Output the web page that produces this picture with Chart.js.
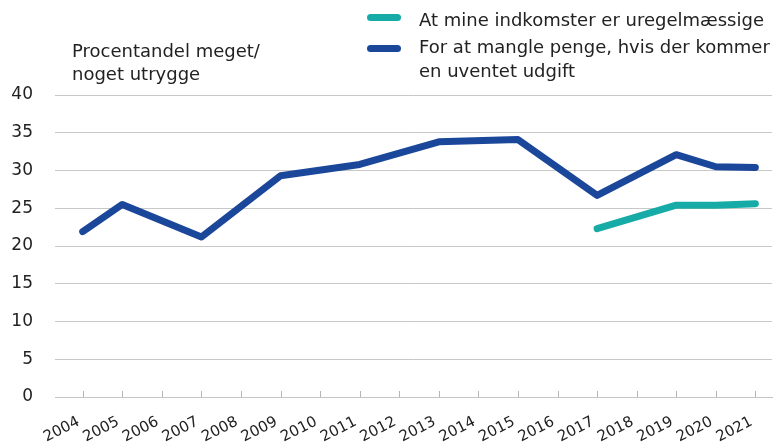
<!DOCTYPE html>
<html>
<head>
<meta charset="utf-8">
<script src="https://cdn.jsdelivr.net/npm/chart.js@4.4.1/dist/chart.umd.min.js"></script>
<style>
  html, body { margin: 0; padding: 0; background: #fff; }
  #wrap { position: relative; width: 783px; height: 444px; overflow: hidden; font-family: "DejaVu Sans", sans-serif; color: #222; }
  canvas { position: absolute; left: 0; top: 0; }
  .title { position: absolute; left: 72px; top: 39px; font-size: 18px; line-height: 23px; white-space: nowrap; }
  .leg { position: absolute; left: 419px; font-size: 18px; line-height: 24px; white-space: nowrap; }
  .sw { position: absolute; left: 367px; width: 34px; height: 7px; border-radius: 3.5px; }
</style>
</head>
<body>
<div id="wrap">
  <canvas id="c" width="783" height="444"></canvas>
  <div class="title">Procentandel meget/<br>noget utrygge</div>
  <div class="sw" id="sw0" style="top:14px;"></div>
  <div class="leg" id="lg0" style="top:8px;"></div>
  <div class="sw" id="sw1" style="top:45px;"></div>
  <div class="leg" id="lg1" style="top:35px;"></div>
</div>
<script>
// ---- data ----
const years = [2004, 2005, 2006, 2007, 2008, 2009, 2010, 2011, 2012, 2013, 2014, 2015, 2016, 2017, 2018, 2019, 2020, 2021];
const seriesNames = ["At mine indkomster er uregelmæssige", "For at mangle penge, hvis der kommer|en uventet udgift"];
const irregularYears = [2017, 2019, 2020, 2021];
const irregularValues = [22.3, 25.4, 25.4, 25.6];
const expenseYears = [2004, 2005, 2007, 2009, 2011, 2013, 2015, 2017, 2019, 2020, 2021];
const expenseValues = [21.9, 25.5, 21.2, 29.3, 30.8, 33.8, 34.1, 26.7, 32.1, 30.5, 30.4];
const yTicks = [0, 5, 10, 15, 20, 25, 30, 35, 40];

const colors = ["#16aba6", "#1b479b"];

// legend (HTML text)
document.getElementById('lg0').textContent = seriesNames[0];
document.getElementById('lg1').innerHTML = seriesNames[1].split('|').join('<br>');
document.getElementById('sw0').style.background = colors[0];
document.getElementById('sw1').style.background = colors[1];

const tickMarks = {
  id: 'tickMarks',
  afterDraw(chart) {
    const xs = chart.scales.x;
    const ctx = chart.ctx;
    const b = chart.chartArea.bottom;
    ctx.save();
    ctx.strokeStyle = '#b4b4b4';
    ctx.lineWidth = 1;
    ctx.beginPath();
    years.forEach(y => {
      const px = Math.round(xs.getPixelForValue(y)) + 0.5;
      ctx.moveTo(px, b - 6);
      ctx.lineTo(px, b);
    });
    ctx.stroke();
    ctx.restore();
  }
};

new Chart(document.getElementById('c'), {
  type: 'line',
  data: {
    datasets: [
      {
        label: seriesNames[0],
        data: irregularYears.map((x, i) => ({ x, y: irregularValues[i] })),
        borderColor: colors[0],
        backgroundColor: colors[0],
        borderWidth: 7,
        borderCapStyle: 'round',
        borderJoinStyle: 'round',
        pointRadius: 0,
        tension: 0
      },
      {
        label: seriesNames[1],
        data: expenseYears.map((x, i) => ({ x, y: expenseValues[i] })),
        borderColor: colors[1],
        backgroundColor: colors[1],
        borderWidth: 7,
        borderCapStyle: 'round',
        borderJoinStyle: 'round',
        pointRadius: 0,
        tension: 0
      }
    ]
  },
  options: {
    responsive: false,
    animation: false,
    devicePixelRatio: 1,
    layout: { padding: { top: 95, right: 11, left: 0, bottom: 0 } },
    plugins: { legend: { display: false }, tooltip: { enabled: false } },
    scales: {
      x: {
        type: 'linear',
        min: 2003.3,
        max: 2021.42,
        afterBuildTicks(scale) { scale.ticks = years.map(v => ({ value: v })); },
        afterFit(scale) { scale.height = 47; },
        grid: { display: false },
        border: { display: true, color: '#c4c4c4', width: 1 },
        ticks: {
          autoSkip: false,
          minRotation: 27,
          maxRotation: 27,
          padding: 8,
          labelOffset: -4,
          color: '#222',
          font: { family: 'DejaVu Sans', size: 15 },
          callback: (v) => String(v)
        }
      },
      y: {
        min: 0,
        max: 40,
        afterBuildTicks(scale) { scale.ticks = yTicks.map(v => ({ value: v })); },
        afterFit(scale) { scale.width = 55; },
        grid: { color: '#c8c8c8', lineWidth: 1, drawTicks: false },
        border: { display: false },
        ticks: {
          padding: 22,
          color: '#222',
          font: { family: 'DejaVu Sans', size: 17 }
        }
      }
    }
  },
  plugins: [tickMarks]
});
</script>
</body>
</html>
